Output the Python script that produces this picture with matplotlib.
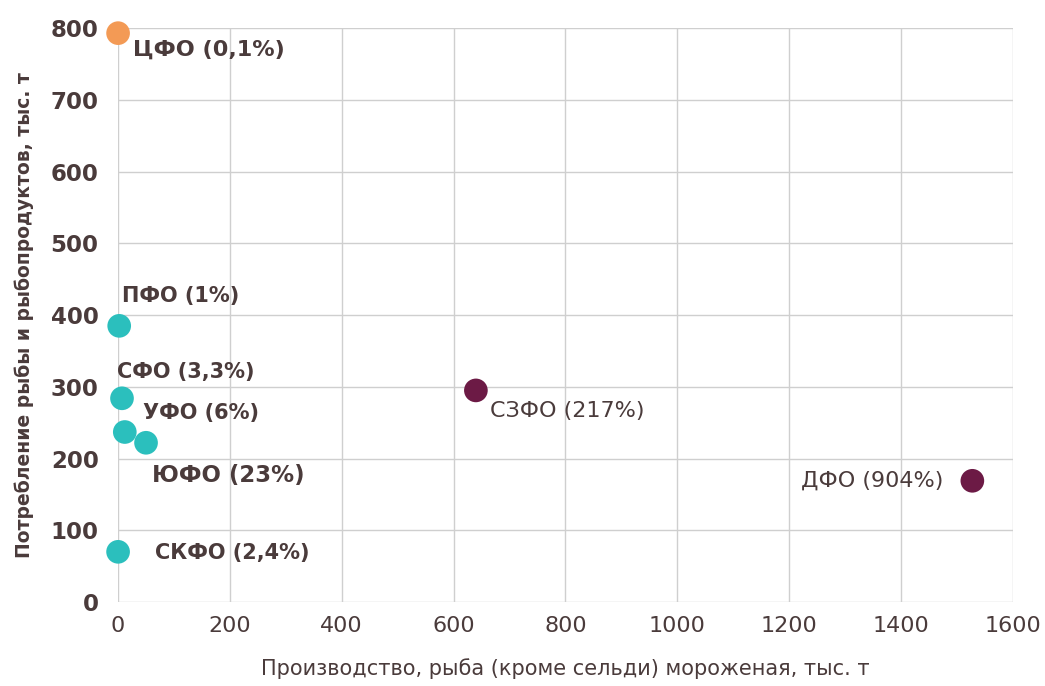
import matplotlib.pyplot as plt

# Data
regions = ['ЦФО', 'ПФО', 'СФО', 'УФО', 'ЮФО', 'СКФО', 'СЗФО', 'ДФО']
shares = ['0,1%', '1%', '3,3%', '6%', '23%', '2,4%', '217%', '904%']
production = [0, 2, 7, 12, 50, 0, 640, 1528]
consumption = [793, 385, 284, 237, 222, 70, 295, 169]

TEXT = '#4a3b3b'
colors = ['#f39a55', '#2bbfbd', '#2bbfbd', '#2bbfbd', '#2bbfbd', '#2bbfbd', '#6c1a45', '#6c1a45']

# label offsets (pixels), alignment, size, weight
label_style = {
    'ЦФО': ((15, -17), 'left', 16, 'bold'),
    'ПФО': ((3, 30), 'left', 15, 'bold'),
    'СФО': ((-5, 26), 'left', 15, 'bold'),
    'УФО': ((18, 19), 'left', 15, 'bold'),
    'ЮФО': ((6, -33), 'left', 16.5, 'bold'),
    'СКФО': ((37, -1), 'left', 15, 'bold'),
    'СЗФО': ((14, -21), 'left', 16, 'normal'),
    'ДФО': ((-29, 0), 'right', 16, 'normal'),
}

plt.rcParams['font.family'] = ['DejaVu Sans']

fig = plt.figure(figsize=(10.45, 6.86), dpi=100)
ax = fig.add_axes([0.113, 0.1224, 0.856, 0.8366])

ax.scatter(production, consumption, s=290, c=colors, zorder=3, linewidths=0,
           clip_on=False)

for name, share, x, y in zip(regions, shares, production, consumption):
    (dx, dy), ha, size, weight = label_style[name]
    ax.annotate(f'{name} ({share})', (x, y), xytext=(dx, dy),
                textcoords='offset pixels', ha=ha, va='center',
                fontsize=size, fontweight=weight, color=TEXT, zorder=4)

ax.set_xlim(0, 1600)
ax.set_ylim(0, 800)
xt = list(range(0, 1601, 200))
yt = list(range(0, 801, 100))
ax.set_xticks(xt, [str(v) for v in xt], fontsize=16, color=TEXT)
ax.set_yticks(yt, [str(v) for v in yt], fontsize=16.5, fontweight='bold', color=TEXT)
ax.grid(True, color='#cfcfcf', linewidth=1)
ax.set_axisbelow(True)
for side in ['top', 'right', 'bottom', 'left']:
    ax.spines[side].set_visible(False)
ax.tick_params(length=0)
ax.tick_params(axis='y', pad=14)
ax.tick_params(axis='x', pad=10)

ax.set_xlabel('Производство, рыба (кроме сельди) мороженая, тыс. т',
              fontsize=15, color=TEXT, labelpad=16)
ax.set_ylabel('Потребление рыбы и рыбопродуктов, тыс. т',
              fontsize=13.5, color=TEXT, fontweight='bold', labelpad=12)

fig.savefig('out.png', dpi=100)
